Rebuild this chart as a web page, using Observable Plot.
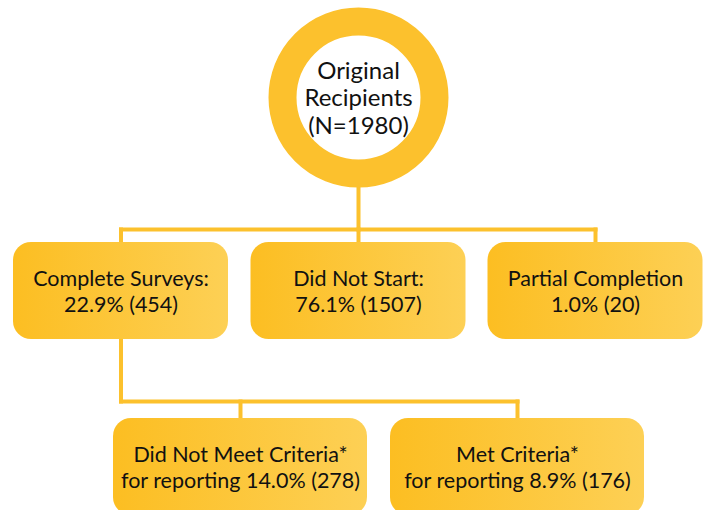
<!DOCTYPE html>
<html>
<head>
<meta charset="utf-8">
<script src="https://cdn.jsdelivr.net/npm/d3@7"></script>
<script src="https://cdn.jsdelivr.net/npm/@observablehq/plot@0.6"></script>
<style>
  html, body { margin: 0; padding: 0; background: #ffffff; }
  #chart { width: 707px; height: 510px; overflow: hidden; }
</style>
</head>
<body>
<div id="chart"></div>
<script>
// ---- data ----
const rootLines = ["Original", "Recipients"];
const total = 1980;
const categories = ["Complete Surveys:", "Did Not Start:", "Partial Completion", "Did Not Meet Criteria*", "Met Criteria*"];
const subPrefix = ["", "", "", "for reporting ", "for reporting "];
const percents = [22.9, 76.1, 1.0, 14.0, 8.9];
const counts = [454, 1507, 20, 278, 176];
const parents = [-1, -1, -1, 0, 0];   // -1 = root

// ---- layout (positions only) ----
const W = 707, H = 510;
const rootNode = {x: 358, y: 97, r: 76, ring: 28};
const rowY = [242, 418];           // box tops by level
const boxW = [215, 254], boxH = 97;
const centersX = [120.5, 358, 595, 240, 517];
const busY = [229, 401];

const nodes = categories.map((c, i) => {
  const level = parents[i] < 0 ? 0 : 1;
  const cx = centersX[i];
  return {
    level, cx,
    x1: cx - boxW[level] / 2, x2: cx + boxW[level] / 2,
    y1: rowY[level], y2: rowY[level] + boxH,
    cy: rowY[level] + boxH / 2,
    label: `${c}\n${subPrefix[i]}${percents[i].toFixed(1)}% (${counts[i]})`
  };
});

// connector segments
const segs = [];
const topRow = nodes.filter(n => n.level === 0);
segs.push({x1: rootNode.x, y1: rootNode.y, x2: rootNode.x, y2: busY[0]});
segs.push({x1: d3.min(topRow, n => n.cx), y1: busY[0], x2: d3.max(topRow, n => n.cx), y2: busY[0]});
topRow.forEach(n => segs.push({x1: n.cx, y1: busY[0], x2: n.cx, y2: n.y1}));
const kids = nodes.filter((n, i) => parents[i] === 0);
const par = nodes[0];
segs.push({x1: par.cx, y1: par.y2, x2: par.cx, y2: busY[1]});
segs.push({x1: par.cx, y1: busY[1], x2: d3.max(kids, n => n.cx), y2: busY[1]});
kids.forEach(n => segs.push({x1: n.cx, y1: busY[1], x2: n.cx, y2: n.y1}));

const gold = "#FCC12D";
const font = "Lato, 'Noto Sans', sans-serif";

const chart = Plot.plot({
  width: W, height: H,
  margin: 0,
  x: {type: "identity", axis: null},
  y: {type: "identity", axis: null},
  style: {fontFamily: font, background: "white"},
  marks: [
    Plot.link(segs, {x1: "x1", y1: "y1", x2: "x2", y2: "y2", stroke: gold, strokeWidth: 4, strokeLinecap: "square"}),
    Plot.dot([rootNode], {x: "x", y: "y", r: rootNode.r, fill: "white", stroke: gold, strokeWidth: rootNode.ring}),
    Plot.text([rootNode], {x: "x", y: "y", text: d => `${rootLines.join("\n")}\n(N=${total})`, fontSize: 24, lineHeight: 1.15, fill: "#111", lineAnchor: "middle"}),
    Plot.rect(nodes, {x1: "x1", x2: "x2", y1: "y1", y2: "y2", fill: "url(#boxgrad)", rx: 18, ry: 18}),
    Plot.text(nodes, {x: "cx", y: "cy", text: "label", fontSize: 21.5, lineHeight: 1.2, fill: "#111", lineAnchor: "middle"})
  ]
});

const ns = "http://www.w3.org/2000/svg";
const defs = document.createElementNS(ns, "defs");
defs.innerHTML = `<linearGradient id="boxgrad" x1="0" y1="0" x2="1" y2="0">
  <stop offset="0" stop-color="#FCBE22"/>
  <stop offset="1" stop-color="#FDD055"/>
</linearGradient>`;
chart.insertBefore(defs, chart.firstChild);
document.getElementById("chart").appendChild(chart);
</script>
</body>
</html>
